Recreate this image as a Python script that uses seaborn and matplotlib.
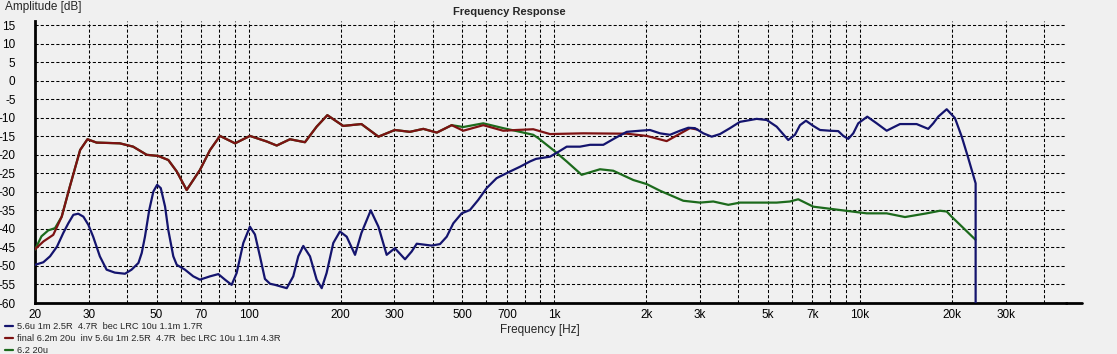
import matplotlib
matplotlib.use("Agg")
import matplotlib.pyplot as plt
from matplotlib.lines import Line2D
from matplotlib.ticker import FixedLocator, NullFormatter
import seaborn as sns

# blue: "5.6u 1m 2.5R 4.7R bec LRC 10u 1.1m 1.7R"
blue_freq = [20, 21.3, 22.4, 23.6, 24.75, 25.7, 26.7, 27.7, 28.8, 29.9, 31.0, 32.6, 34.3, 36.5,
             39.4, 41.4, 43.6, 44.7, 45.8, 47.3, 48.8, 50.2, 51.6, 53.3, 54.6, 56.7, 58.2, 61.9,
             65.9, 69.3, 74.8, 79.6, 83.7, 88.0, 91.4, 96.1, 101, 104.9, 109, 113.1, 117.5, 122,
             133.3, 140, 145.4, 151, 158.8, 167, 173.5, 180, 189.3, 199, 209.4, 223, 234, 251,
             266, 283, 301, 325, 341.7, 355, 397, 423, 445, 467.6, 498, 530, 564, 601, 648, 717,
             774, 833, 872, 969, 1032, 1099, 1215, 1310, 1448, 1581, 1727, 1909, 2058, 2220,
             2393, 2580, 2746, 2888, 3076, 3277, 3488, 3762, 4055, 4598, 4960, 5346, 5834, 6136,
             6374, 6666, 7046, 7410, 7988, 8504, 8832, 9170, 9522, 9886, 10580, 11360, 12250,
             12870, 13540, 15350, 16750, 17400, 18060, 19250, 20490, 21560, 22650, 23940, 23940]
blue_db = [-49.7, -49.0, -47.4, -44.8, -41.1, -38.5, -36.2, -35.9, -36.7, -38.9, -42.1, -47.4,
           -51.0, -51.8, -52.1, -51.0, -49.2, -46.5, -42.1, -34.9, -29.9, -28.1, -29.0, -34.0,
           -40.3, -47.4, -49.7, -51.0, -52.8, -53.7, -52.8, -52.2, -53.7, -55.1, -51.9, -43.8,
           -39.4, -41.5, -47.5, -53.5, -54.8, -55.1, -56.0, -52.8, -47.4, -44.6, -47.4, -53.7,
           -56.0, -51.9, -43.8, -40.7, -42.1, -47.0, -41.1, -35.0, -39.4, -47.0, -45.2, -48.2,
           -46.1, -44.0, -44.5, -44.1, -42.1, -38.5, -35.8, -34.9, -32.2, -29.0, -26.3, -24.5,
           -23.2, -21.8, -21.1, -20.5, -19.2, -17.8, -17.8, -17.3, -17.3, -15.5, -13.8, -13.5,
           -13.3, -14.2, -14.6, -13.5, -12.7, -12.8, -14.2, -15.1, -14.4, -12.8, -11.1, -10.3,
           -10.6, -12.4, -16.0, -14.6, -12.0, -10.8, -12.2, -13.3, -13.5, -13.6, -14.9, -15.7,
           -14.2, -11.5, -9.7, -11.5, -13.5, -12.6, -11.7, -11.7, -13.0, -11.5, -9.7, -7.7,
           -10.1, -15.1, -20.9, -27.7, -62.0]

# red: "final ..."
red_freq = [20, 21.3, 22.95, 24.46, 26.0, 28.1, 29.7, 31.8, 37.9, 41.9, 46.4, 50.6, 54.6, 58.2,
            62.7, 69.3, 74.8, 80.6, 90.3, 101, 114.6, 123.6, 136.6, 152.9, 167, 181, 204, 234,
            266, 301, 337, 373, 413, 462, 504, 586, 681, 754, 854, 969, 1245, 1727, 2008, 2334,
            2782, 2950]
red_db = [-45.5, -43.4, -41.6, -36.7, -28.6, -18.7, -15.8, -16.7, -16.9, -17.8, -20.0, -20.3,
          -21.4, -24.5, -29.5, -24.1, -18.7, -14.9, -16.9, -14.9, -16.4, -17.5, -15.8, -16.6,
          -12.4, -9.3, -12.2, -11.7, -15.1, -13.3, -13.8, -13.0, -14.0, -12.0, -13.5, -12.0,
          -13.5, -13.3, -13.1, -14.4, -14.2, -14.3, -14.9, -16.3, -12.8, -13.2]

# green: "6.2 20u"
green_freq = [20, 21.0, 22.1, 23.25, 24.46, 26.0, 28.1, 29.7, 31.8, 37.9, 41.9, 46.4, 50.6, 54.6,
              58.2, 62.7, 69.3, 74.8, 80.6, 90.3, 101, 114.6, 123.6, 136.6, 152.9, 167, 181, 204,
              234, 266, 301, 337, 373, 413, 462, 504, 586, 681, 754, 854, 887, 993, 1099, 1230,
              1412, 1561, 1815, 2008, 2220, 2645, 3000, 3316, 3714, 4055, 5346, 5910, 6290, 7046,
              8614, 10530, 12250, 14060, 16550, 18300, 19250, 19980, 23900]
green_db = [-45.6, -42.0, -40.4, -39.8, -36.7, -28.6, -18.7, -15.8, -16.7, -16.9, -17.8, -20.0,
            -20.3, -21.4, -24.5, -29.5, -24.1, -18.7, -14.9, -16.9, -14.9, -16.4, -17.5, -15.8,
            -16.6, -12.4, -9.3, -12.2, -11.7, -15.1, -13.3, -13.8, -13.0, -14.0, -12.0, -12.5,
            -11.5, -12.8, -13.6, -14.6, -15.5, -18.7, -21.8, -25.4, -23.9, -24.3, -26.8, -27.9,
            -29.7, -32.4, -32.9, -32.6, -33.5, -32.9, -32.9, -32.6, -32.0, -34.0, -34.9, -35.8,
            -35.8, -36.8, -35.8, -35.1, -35.3, -36.7, -42.9]

labels = ["5.6u 1m 2.5R  4.7R  bec LRC 10u 1.1m 1.7R",
          "final 6.2m 20u  inv 5.6u 1m 2.5R  4.7R  bec LRC 10u 1.1m 4.3R",
          "6.2 20u"]

major_ticks = [20, 30, 50, 70, 100, 200, 300, 500, 700, 1000, 2000, 3000, 5000, 7000,
               10000, 20000, 30000]
major_labels = ["20", "30", "50", "70", "100", "200", "300", "500", "700", "1k", "2k", "3k",
                "5k", "7k", "10k", "20k", "30k"]
minor_ticks = [40, 60, 80, 90, 400, 600, 800, 900, 4000, 6000, 8000, 9000, 40000]
y_ticks = list(range(-60, 16, 5))

sns.set_style("white")
plt.rcParams["font.family"] = ["Liberation Sans", "DejaVu Sans"]

bg = "#f0f0f0"
fig = plt.figure(figsize=(11.17, 3.54), dpi=100, facecolor=bg)
W, H = 1117, 354
ax = fig.add_axes([35 / W, 51 / H, (1066 - 35) / W, (303 - 20.7) / H])
ax.set_facecolor(bg)

sns.lineplot(x=blue_freq, y=blue_db, color="#14146e", lw=1.6, sort=False, estimator=None,
             label=labels[0], zorder=5, ax=ax)
sns.lineplot(x=red_freq, y=red_db, color="#7d1212", lw=1.6, sort=False, estimator=None,
             label=labels[1], zorder=4, ax=ax)
sns.lineplot(x=green_freq, y=green_db, color="#1c6a1c", lw=1.6, sort=False, estimator=None,
             label=labels[2], zorder=3, ax=ax)

ax.set_xscale("log")
ax.set_xlim(20, 47300)
ax.set_ylim(-60, 16.2)

ax.xaxis.set_major_locator(FixedLocator(major_ticks))
ax.xaxis.set_minor_locator(FixedLocator(minor_ticks))
ax.set_xticklabels(major_labels)
ax.xaxis.set_minor_formatter(NullFormatter())
ax.set_yticks(y_ticks)
ax.set_yticklabels([str(v) for v in y_ticks])

grid_kw = dict(color="black", linestyle=(0, (3, 2)), linewidth=0.75)
ax.grid(True, which="both", axis="x", **grid_kw)
ax.grid(True, which="major", axis="y", **grid_kw)

ax.tick_params(axis="x", which="both", direction="out", length=4, width=0.7,
               labelsize=8.5, pad=0, colors="black")
ax.tick_params(axis="y", length=0, labelsize=8.5, pad=14, colors="black")

for side in ["top", "right"]:
    ax.spines[side].set_visible(False)
ax.spines["left"].set_linewidth(2)
ax.spines["bottom"].set_linewidth(2)
ax.spines["left"].set_color("black")
ax.spines["bottom"].set_color("black")
ax.set_xlabel("")
ax.set_ylabel("")

# the axis line runs a little past the plot area
fig.add_artist(Line2D([1066 / W, 1082 / W], [51 / H, 51 / H], color="black", lw=2))

fig.text(509 / W, 1 - 12 / H, "Frequency Response", ha="center", va="center",
         fontsize=8, fontweight="bold")
fig.text(5 / W, 1 - 7 / H, "Amplitude [dB]", ha="left", va="center", fontsize=8.5)
fig.text(540 / W, 1 - 330 / H, "Frequency [Hz]", ha="center", va="center", fontsize=8.5)

handles, labs = ax.get_legend_handles_labels()
ax.get_legend().remove()
fig.legend(handles, labs, loc="upper left", bbox_to_anchor=(3 / W, 1 - 320 / H),
           frameon=False, fontsize=6.7, handlelength=0.85, handletextpad=0.5,
           labelspacing=0.32, borderaxespad=0, borderpad=0.2)

fig.savefig("out.png", dpi=100, facecolor=bg)
